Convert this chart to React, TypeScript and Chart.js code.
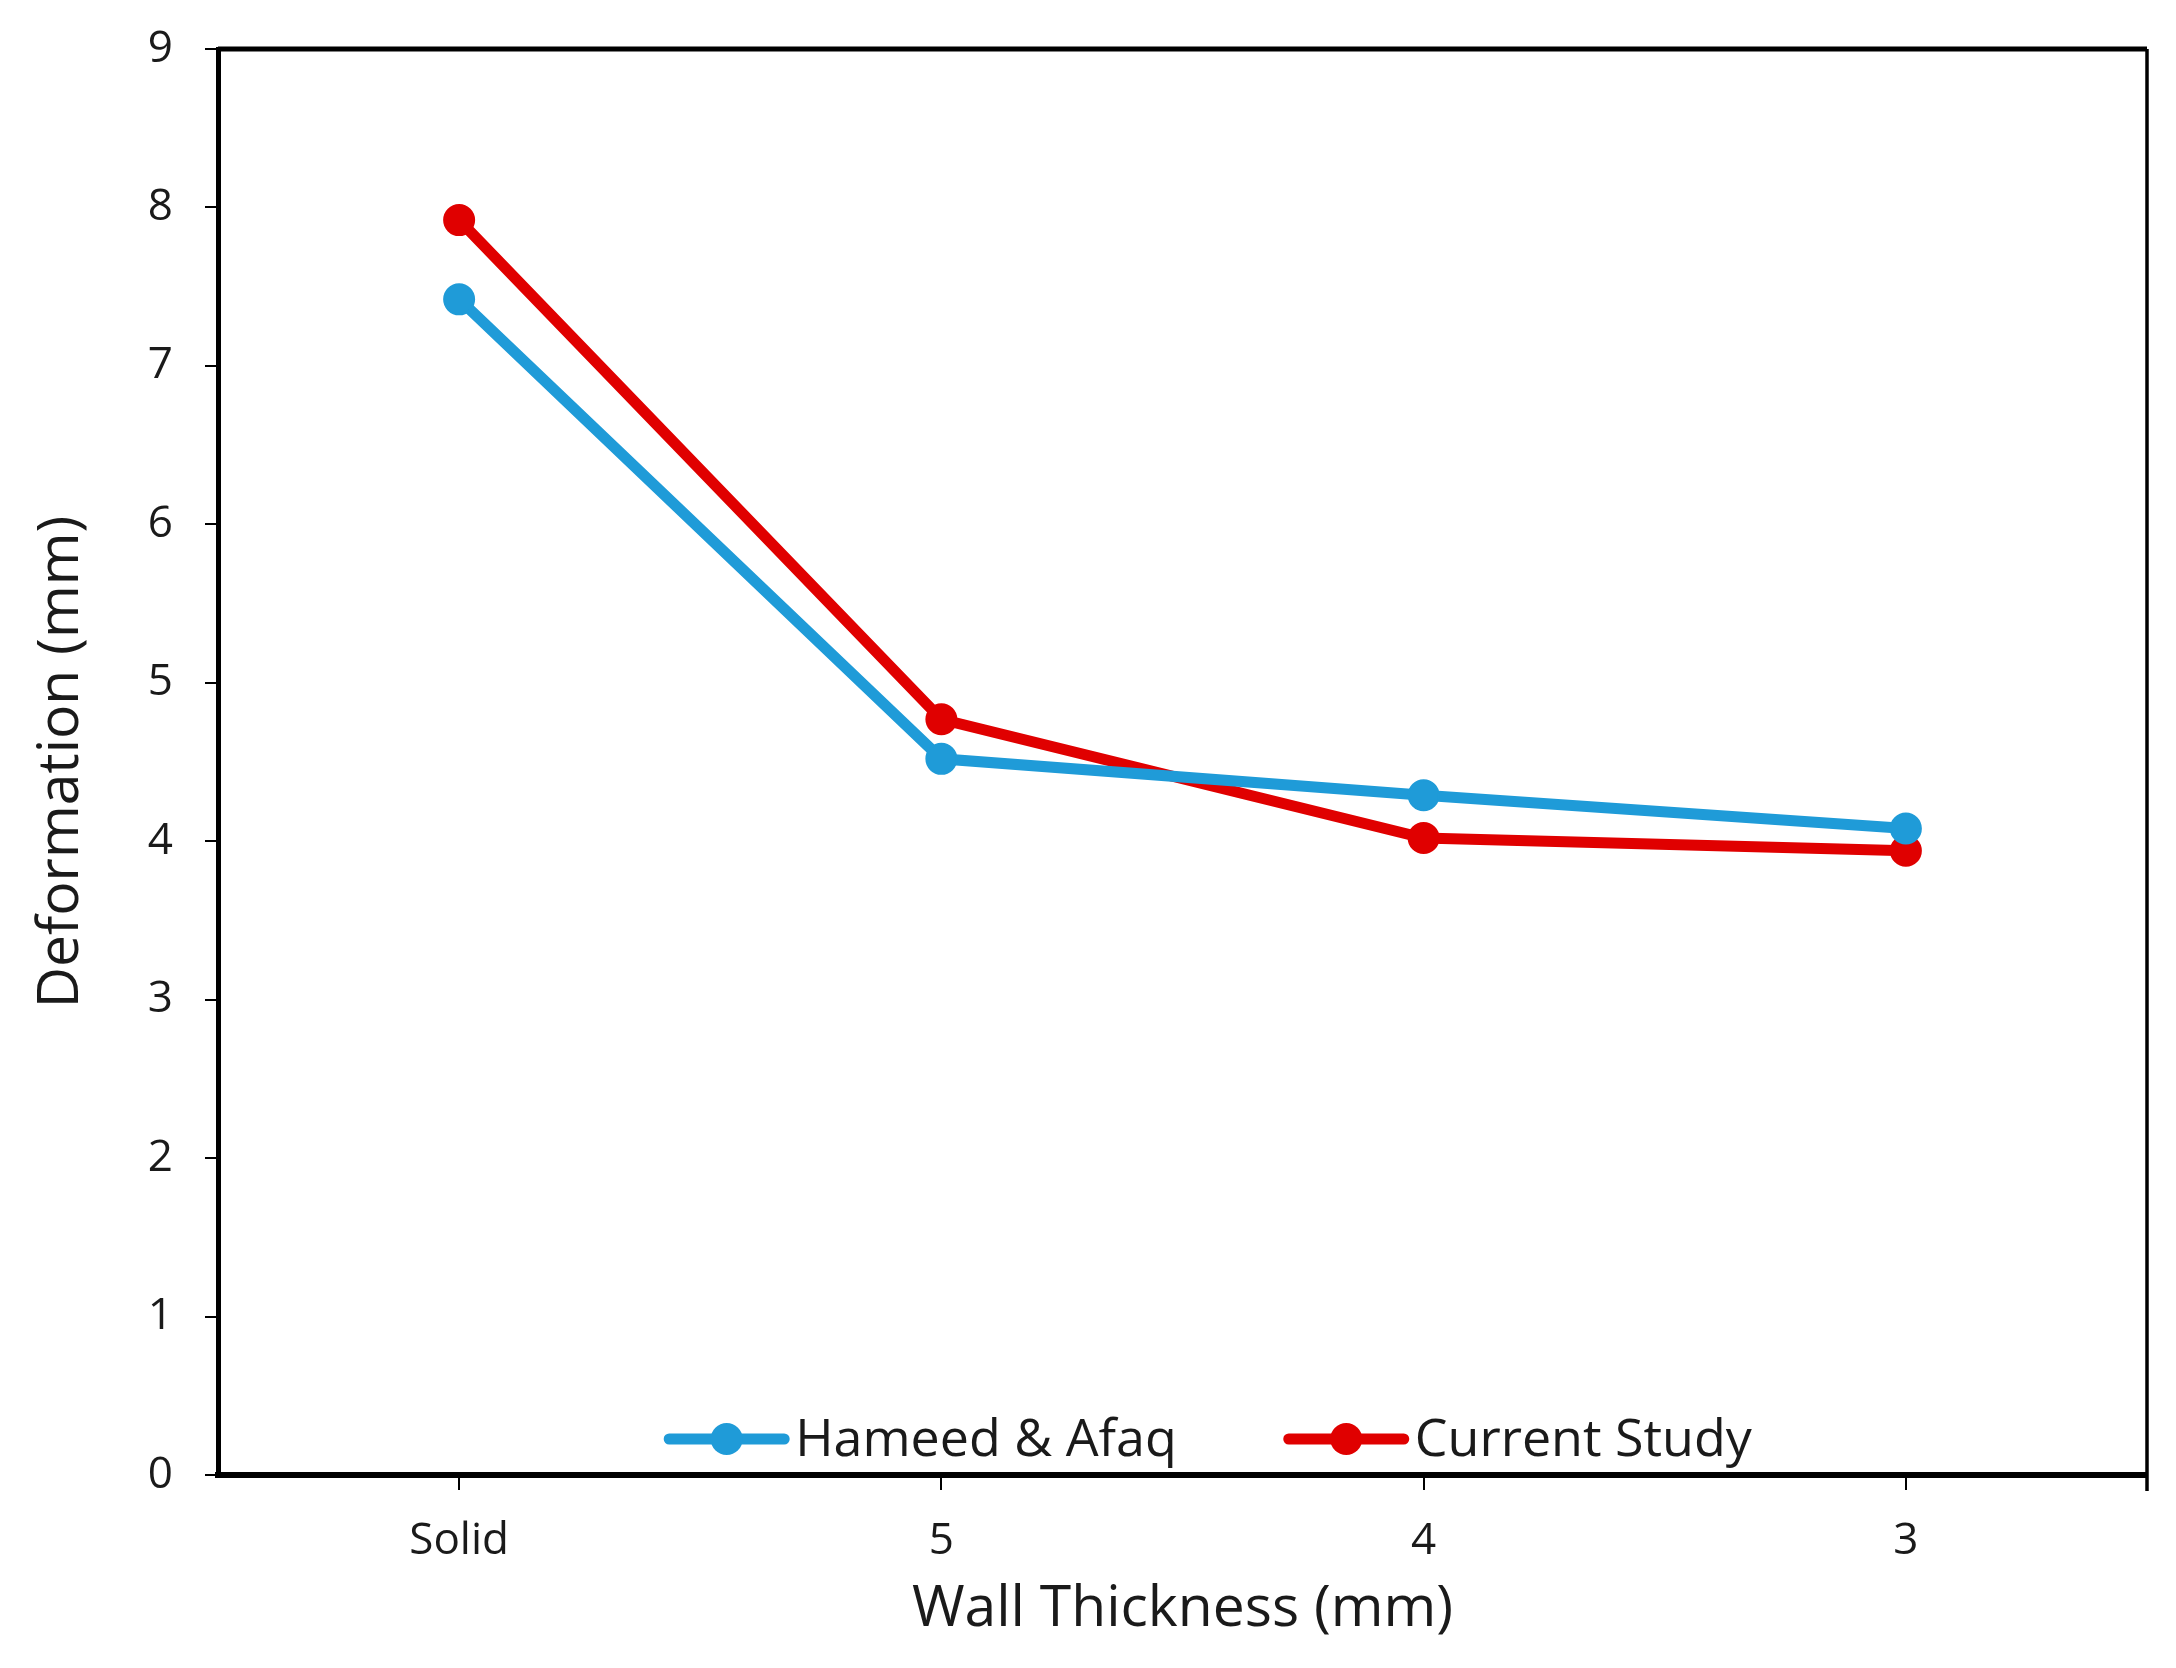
import { useEffect, useRef } from 'react';
import { Chart, registerables } from 'chart.js';

Chart.register(...registerables);

const wallThickness = ['Solid', '5', '4', '3'];
const hameedAfaq = [7.42, 4.52, 4.29, 4.08];
const currentStudy = [7.92, 4.77, 4.02, 3.94];
const yTicks = [0, 1, 2, 3, 4, 5, 6, 7, 8, 9];

const BLUE = '#1f9bd8';
const RED = '#e00000';
const FONT = "'Open Sans', 'Noto Sans', sans-serif";

// draws the top and right edges of the plot box
const framePlugin = {
  id: 'frame',
  afterDraw(chart: Chart) {
    const { ctx, chartArea } = chart;
    ctx.save();
    ctx.strokeStyle = '#000';
    ctx.lineWidth = 5;
    ctx.beginPath();
    ctx.moveTo(chartArea.left, chartArea.top);
    ctx.lineTo(chartArea.right, chartArea.top);
    ctx.stroke();
    ctx.lineWidth = 3.5;
    ctx.beginPath();
    ctx.moveTo(chartArea.right, chartArea.top);
    ctx.lineTo(chartArea.right, chartArea.bottom + 16);
    ctx.stroke();
    ctx.restore();
  },
};

// Excel-style legend inside the plot, near the bottom
const legendPlugin = {
  id: 'insideLegend',
  afterDraw(chart: Chart) {
    const { ctx, chartArea } = chart;
    const sets = chart.data.datasets;
    ctx.save();
    ctx.font = `52px ${FONT}`;
    ctx.textBaseline = 'middle';
    const lineLen = 115;
    const gapText = 11;
    const gapItem = 112;
    const widths = sets.map(d => ctx.measureText(String(d.label)).width);
    const total = widths.reduce((s, w) => s + lineLen + gapText + w, 0) + gapItem * (sets.length - 1);
    let x = (chartArea.left + chartArea.right) / 2 + 28 - total / 2;
    const y = chartArea.bottom - 36;
    sets.forEach((d, i) => {
      const color = d.borderColor as string;
      ctx.strokeStyle = color;
      ctx.lineWidth = 11;
      ctx.lineCap = 'round';
      ctx.beginPath();
      ctx.moveTo(x, y);
      ctx.lineTo(x + lineLen, y);
      ctx.stroke();
      ctx.fillStyle = color;
      ctx.beginPath();
      ctx.arc(x + lineLen / 2, y, 16, 0, Math.PI * 2);
      ctx.fill();
      ctx.fillStyle = '#1a1a1a';
      ctx.fillText(String(d.label), x + lineLen + gapText, y + 2);
      x += lineLen + gapText + widths[i] + gapItem;
    });
    ctx.restore();
  },
};

export default function App() {
  const chartRef = useRef<HTMLCanvasElement>(null);
  const chartInstance = useRef<Chart | null>(null);

  useEffect(() => {
    if (!chartRef.current) return;
    if (chartInstance.current) chartInstance.current.destroy();
    const ctx = chartRef.current.getContext('2d');
    if (!ctx) return;

    chartInstance.current = new Chart(ctx, {
      type: 'line',
      data: {
        labels: wallThickness,
        datasets: [
          {
            label: 'Hameed & Afaq',
            data: hameedAfaq,
            borderColor: BLUE,
            backgroundColor: BLUE,
            borderWidth: 11,
            pointRadius: 15,
            pointBorderWidth: 2,
            tension: 0,
          },
          {
            label: 'Current Study',
            data: currentStudy,
            borderColor: RED,
            backgroundColor: RED,
            borderWidth: 11,
            pointRadius: 15,
            pointBorderWidth: 2,
            tension: 0,
          },
        ],
      },
      options: {
        animation: false,
        responsive: true,
        maintainAspectRatio: false,
        layout: { padding: { top: 41, right: 21, left: 0, bottom: 0 } },
        plugins: {
          legend: { display: false },
          tooltip: { enabled: false },
        },
        scales: {
          x: {
            offset: true,
            grid: {
              drawOnChartArea: false,
              drawTicks: true,
              tickLength: 15,
              tickColor: '#000',
              lineWidth: 2,
            },
            border: { display: true, color: '#000', width: 6 },
            ticks: {
              color: '#1a1a1a',
              padding: 25,
              font: { family: FONT, size: 44 },
            },
            title: {
              display: true,
              text: 'Wall Thickness (mm)',
              color: '#1a1a1a',
              font: { family: FONT, size: 57 },
              padding: { top: 0, bottom: 16 },
            },
            afterFit(scale) {
              scale.height = 185;
              scale.paddingLeft = 0;
              scale.paddingRight = 0;
            },
          },
          y: {
            min: 0,
            max: 9,
            afterBuildTicks(scale) {
              scale.ticks = yTicks.map(v => ({ value: v }));
            },
            grid: {
              drawOnChartArea: false,
              drawTicks: true,
              tickLength: 13,
              tickColor: '#000',
              lineWidth: 2,
            },
            border: { display: true, color: '#000', width: 5 },
            ticks: {
              color: '#1a1a1a',
              padding: 32,
              font: { family: FONT, size: 44 },
            },
            title: {
              display: true,
              text: 'Deformation (mm)',
              color: '#1a1a1a',
              font: { family: FONT, size: 57 },
              padding: { top: 20, bottom: 0 },
            },
            afterFit(scale) {
              scale.width = 210;
              scale.paddingTop = 0;
              scale.paddingBottom = 0;
            },
          },
        },
      },
      plugins: [framePlugin, legendPlugin],
    });

    return () => {
      if (chartInstance.current) {
        chartInstance.current.destroy();
        chartInstance.current = null;
      }
    };
  }, []);

  return (
    <div style={{ width: 2160, height: 1652, position: 'relative', background: '#fff' }}>
      <canvas ref={chartRef}></canvas>
    </div>
  );
}
